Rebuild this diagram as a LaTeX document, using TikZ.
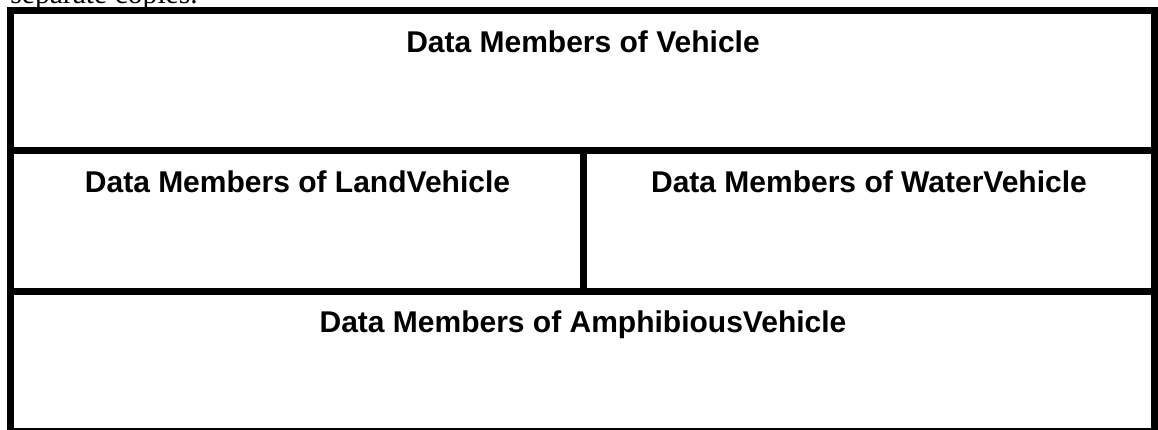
\documentclass[tikz,border=0pt]{standalone}
\usepackage{fontspec}
\setmainfont{Liberation Sans}
\newfontfamily\notefont{Liberation Serif}
\usepackage{tikz}

\begin{document}
\begin{tikzpicture}[x=0.5pt, y=-0.5pt, font=\fontsize{15}{18}\selectfont\bfseries,
        wall/.style={line width=3.5pt, line cap=rect}]
        \useasboundingbox (0,0) rectangle (1158,429);
        \clip (0,0) rectangle (1158,429);
        % Testo sopra (tagliato)
        \node[anchor=base west, inner sep=0pt, font=\notefont\fontsize{14.8}{17}\selectfont] (nota) at (10,3) {separate copies.};
        % Pareti dell'oggetto
        \draw[wall] (10.5,10.5) rectangle (1154.5,431.5);
        \draw[wall] (10.5,150.5) -- (1154.5,150.5);
        \draw[wall] (10.5,291) -- (1154.5,291);
        \draw[wall] (583.5,150.5) -- (583.5,291);
        % Etichette dei membri
        \foreach \nome/\x/\y/\cls in {
                veicolo/583/52/Vehicle,
                terra/297.5/192/LandVehicle,
                acqua/869/192/WaterVehicle,
                anfibio/583/332/AmphibiousVehicle}
            {
                \node[anchor=base, inner sep=0pt] (\nome) at (\x,\y) {Data Members of \cls};
            }
    \end{tikzpicture}
\end{document}
